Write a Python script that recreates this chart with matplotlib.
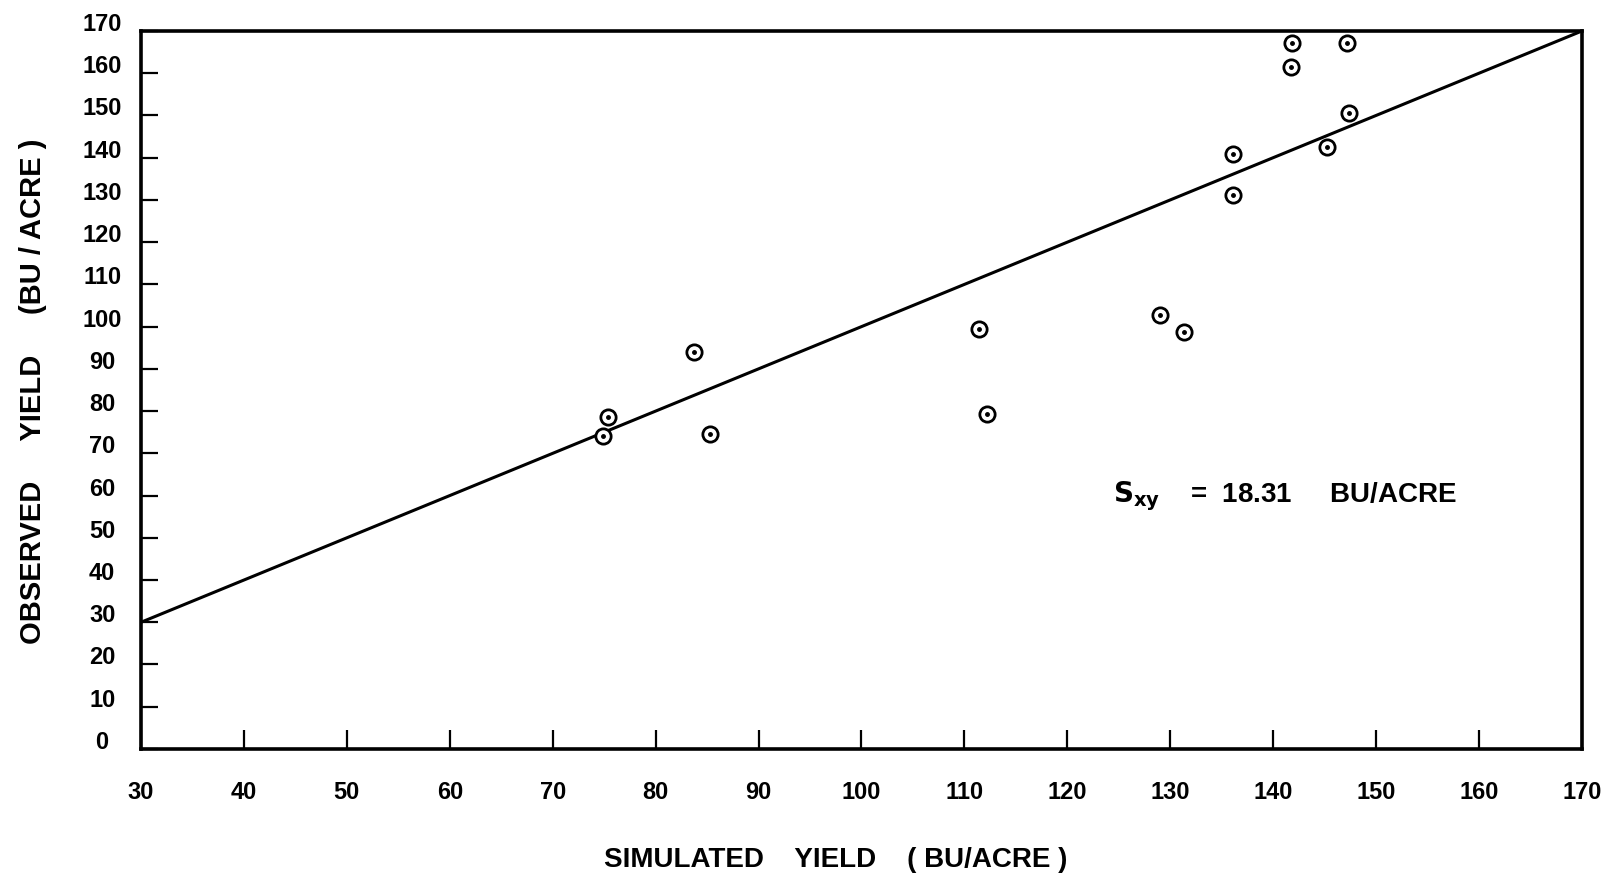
import matplotlib
matplotlib.use("Agg")
import matplotlib.pyplot as plt
import matplotlib.transforms as mtransforms

simule = [75.4, 74.9, 83.7, 85.3, 111.4, 112.2, 129.0, 131.3,
          136.1, 136.1, 141.8, 147.2, 141.7, 147.4, 145.2]
observe = [78.5, 74.0, 93.9, 74.6, 99.4, 79.2, 102.8, 98.8,
           140.9, 131.2, 167.1, 167.1, 161.4, 150.7, 142.6]

# Droite 1:1
droite_x = [30, 170]
droite_y = [30, 170]

x_ticks = list(range(30, 171, 10))
y_ticks = list(range(0, 171, 10))

plt.rcParams['font.family'] = ['Liberation Sans', 'DejaVu Sans']
plt.rcParams['font.weight'] = 'bold'

fig = plt.figure(figsize=(16.19, 8.79), dpi=100)
ax = fig.add_axes([0.0871, 0.1468, 0.89, 0.8168])

ax.plot(droite_x, droite_y, color='black', linewidth=2.2, zorder=2)
ax.plot(simule, observe, linestyle='none', marker='o', markersize=11,
        markerfacecolor='white', markeredgecolor='black', markeredgewidth=2.0, zorder=3)
ax.plot(simule, observe, linestyle='none', marker='o', markersize=2.5,
        color='black', zorder=4)

ax.set_xlim(30, 170)
ax.set_ylim(0, 170)
ax.set_xticks(x_ticks)
ax.set_yticks(y_ticks)
ax.set_xticklabels([str(v) for v in x_ticks], fontsize=17, fontweight='bold')
ax.set_yticklabels([str(v) for v in y_ticks], fontsize=17, fontweight='bold')

ax.tick_params(axis='x', direction='in', length=14, width=1.6, pad=22)
ax.tick_params(axis='y', direction='in', length=12, width=1.6, pad=28)
for lab in ax.get_yticklabels():
    lab.set_horizontalalignment('center')
# les étiquettes y sont un peu au-dessus des graduations
decal = mtransforms.ScaledTranslation(0, 10 / 100, fig.dpi_scale_trans)
for lab in ax.get_yticklabels():
    lab.set_transform(lab.get_transform() + decal)

for s in ax.spines.values():
    s.set_linewidth(2.6)

ax.set_xlabel("SIMULATED    YIELD    ( BU/ACRE )", fontsize=20, fontweight='bold',
              va='center')
ax.xaxis.set_label_coords(0.482, -0.153)
ax.set_ylabel("OBSERVED     YIELD     (BU / ACRE )", fontsize=21, fontweight='bold',
              va='center')
ax.yaxis.set_label_coords(-0.075, 0.5)

ax.text(124.4, 60, r"$\mathbf{S_{xy}}$    =  18.31     BU/ACRE", fontsize=20,
        fontweight='bold', ha='left', va='center')

fig.savefig("out.png", dpi=100)
